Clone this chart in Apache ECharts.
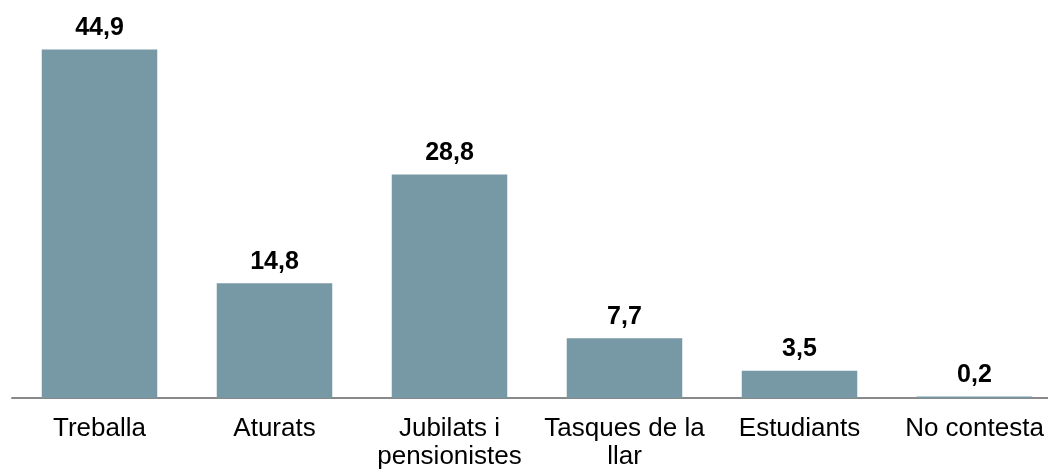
<!DOCTYPE html>
<html>
<head>
<meta charset="utf-8">
<script src="https://cdn.jsdelivr.net/npm/echarts@6/dist/echarts.min.js"></script>
<style>
  html, body { margin: 0; padding: 0; background: #fff; }
  #container { width: 1048px; height: 471px; }
</style>
</head>
<body>
<div id="container"></div>
<script>
var categories = ['Treballa', 'Aturats', 'Jubilats i\npensionistes', 'Tasques de la\nllar', 'Estudiants', 'No contesta'];
var values = [44.9, 14.8, 28.8, 7.7, 3.5, 0.2];

var myChart = echarts.init(document.getElementById('container'));
var font = '"Liberation Sans", Arial, sans-serif';

var option = {
  animation: false,
  grid: {
    left: 12,
    width: 1050,
    top: 10,
    bottom: 73,
    outerBoundsMode: 'none'  // let the last label run to the edge
  },
  xAxis: {
    type: 'category',
    data: categories,
    axisLine: { lineStyle: { color: '#898989', width: 2 } },
    axisTick: { show: false },
    axisLabel: {
      interval: 0,
      margin: 17,
      color: '#000',
      fontSize: 26,
      lineHeight: 28,
      fontFamily: font
    }
  },
  yAxis: {
    type: 'value',
    min: 0,
    max: 50,
    show: false,
    splitLine: { show: false }
  },
  series: [{
    type: 'bar',
    data: values,
    barWidth: '66%',
    itemStyle: { color: '#7799a5' },
    label: {
      show: true,
      position: 'top',
      distance: 9,
      color: '#000',
      fontSize: 25,
      fontWeight: 'bold',
      fontFamily: font,
      formatter: function (p) {
        return p.value.toFixed(1).replace('.', ',');  // decimal comma
      }
    }
  }]
};
myChart.setOption(option);
</script>
</body>
</html>
